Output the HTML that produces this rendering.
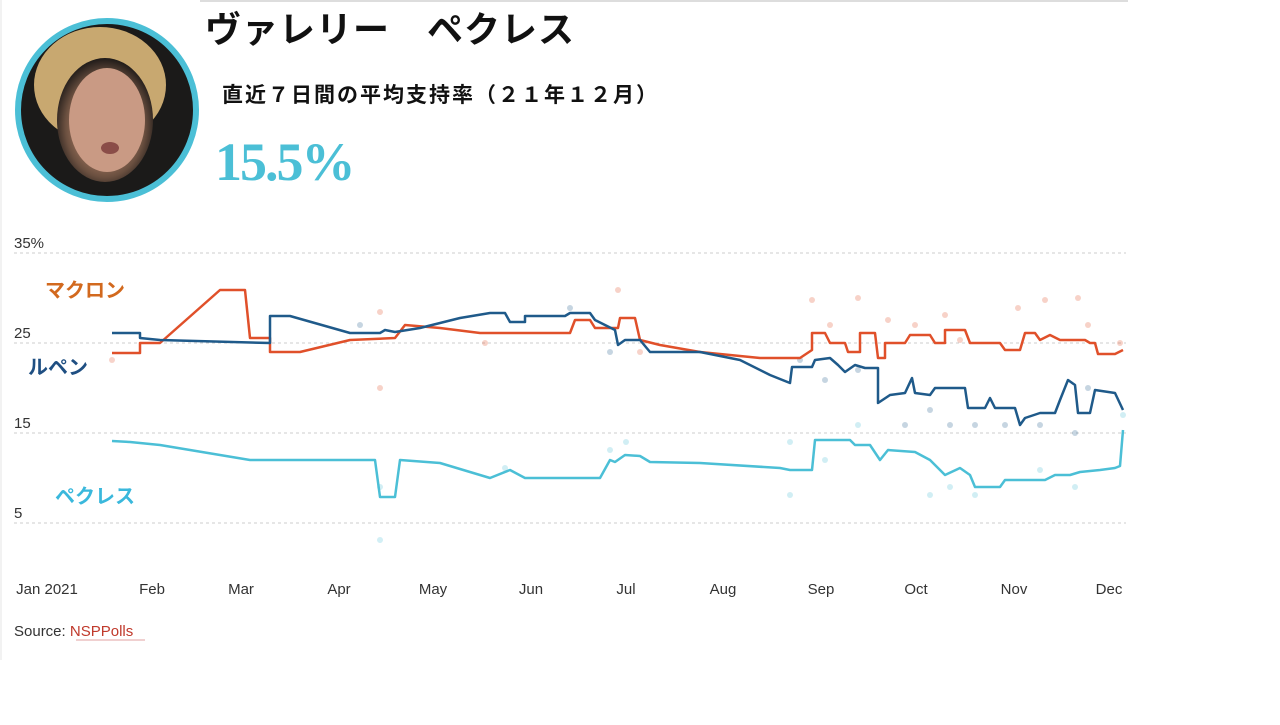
<!DOCTYPE html>
<html><head><meta charset="utf-8"><style>
body{margin:0;width:1280px;height:720px;background:#fff;overflow:hidden;font-family:"Liberation Sans","Noto Sans CJK JP",sans-serif;}
</style></head><body>
<svg width="1280" height="720" viewBox="0 0 1280 720" xmlns="http://www.w3.org/2000/svg">
<defs>
<radialGradient id="face" cx="50%" cy="55%" r="55%">
<stop offset="0" stop-color="#c89a86"/><stop offset="0.45" stop-color="#a87a62"/><stop offset="0.75" stop-color="#6b5040"/><stop offset="1" stop-color="#1e1a18"/>
</radialGradient>
<clipPath id="cc"><circle cx="107" cy="110" r="88"/></clipPath>
</defs>
<line x1="200" y1="1" x2="1128" y2="1" stroke="#bbb" stroke-width="1"/>
<line x1="1" y1="0" x2="1" y2="660" stroke="#e4e4e4" stroke-width="1"/>
<g clip-path="url(#cc)">
<rect x="15" y="18" width="184" height="184" fill="#1b1a19"/>
<ellipse cx="100" cy="85" rx="66" ry="58" fill="#c8a870"/>
<ellipse cx="105" cy="120" rx="48" ry="62" fill="url(#face)"/>
<ellipse cx="107" cy="120" rx="38" ry="52" fill="#c99a84"/>
<ellipse cx="110" cy="148" rx="9" ry="6" fill="#8a4d48"/>
</g>
<circle cx="107" cy="110" r="89" fill="none" stroke="#4bbfd6" stroke-width="6"/>
<text x="205" y="42" font-size="36" font-weight="bold" fill="#111" letter-spacing="1">ヴァレリー　ペクレス</text>
<text x="222" y="102" font-size="21" font-weight="bold" fill="#111" letter-spacing="2">直近７日間の平均支持率（２１年１２月）</text>
<text x="215" y="180" font-size="54" font-family="Liberation Serif,serif" font-weight="bold" fill="#4bbfd6" letter-spacing="-2">15.5%</text>
<g font-size="15" fill="#333">
<text x="14" y="248">35%</text><text x="14" y="338">25</text><text x="14" y="428">15</text><text x="14" y="518">5</text>
</g>
<g stroke="#ccc" stroke-dasharray="3,3" stroke-width="1">
<line x1="14" y1="253" x2="1126" y2="253"/><line x1="14" y1="343" x2="1126" y2="343"/>
<line x1="14" y1="433" x2="1126" y2="433"/><line x1="14" y1="523" x2="1126" y2="523"/>
</g>
<g font-size="15" fill="#333" text-anchor="middle">
<text x="47" y="594">Jan 2021</text><text x="152" y="594">Feb</text><text x="241" y="594">Mar</text><text x="339" y="594">Apr</text><text x="433" y="594">May</text><text x="531" y="594">Jun</text><text x="626" y="594">Jul</text><text x="723" y="594">Aug</text><text x="821" y="594">Sep</text><text x="916" y="594">Oct</text><text x="1014" y="594">Nov</text><text x="1109" y="594">Dec</text>
</g>
<text x="14" y="636" font-size="15" fill="#333">Source: <tspan fill="#c0392b">NSPPolls</tspan></text>
<line x1="76" y1="640" x2="145" y2="640" stroke="#e0a0a0"/>
<g opacity="0.25">
<g fill="#e0502a"><circle cx="380" cy="312" r="3"/><circle cx="380" cy="388" r="3"/><circle cx="485" cy="343" r="3"/><circle cx="618" cy="290" r="3"/><circle cx="640" cy="352" r="3"/><circle cx="812" cy="300" r="3"/><circle cx="830" cy="325" r="3"/><circle cx="858" cy="298" r="3"/><circle cx="888" cy="320" r="3"/><circle cx="915" cy="325" r="3"/><circle cx="945" cy="315" r="3"/><circle cx="960" cy="340" r="3"/><circle cx="1018" cy="308" r="3"/><circle cx="1045" cy="300" r="3"/><circle cx="1078" cy="298" r="3"/><circle cx="1088" cy="325" r="3"/><circle cx="112" cy="360" r="3"/><circle cx="1120" cy="343" r="3"/></g>
<g fill="#1f5a8a"><circle cx="360" cy="325" r="3"/><circle cx="570" cy="308" r="3"/><circle cx="610" cy="352" r="3"/><circle cx="800" cy="360" r="3"/><circle cx="825" cy="380" r="3"/><circle cx="858" cy="370" r="3"/><circle cx="905" cy="425" r="3"/><circle cx="930" cy="410" r="3"/><circle cx="950" cy="425" r="3"/><circle cx="975" cy="425" r="3"/><circle cx="1005" cy="425" r="3"/><circle cx="1040" cy="425" r="3"/><circle cx="1075" cy="433" r="3"/><circle cx="1088" cy="388" r="3"/></g>
<g fill="#4bbfd6"><circle cx="380" cy="540" r="3"/><circle cx="380" cy="487" r="3"/><circle cx="505" cy="468" r="3"/><circle cx="610" cy="450" r="3"/><circle cx="626" cy="442" r="3"/><circle cx="790" cy="495" r="3"/><circle cx="790" cy="442" r="3"/><circle cx="825" cy="460" r="3"/><circle cx="858" cy="425" r="3"/><circle cx="930" cy="495" r="3"/><circle cx="950" cy="487" r="3"/><circle cx="975" cy="495" r="3"/><circle cx="1040" cy="470" r="3"/><circle cx="1075" cy="487" r="3"/><circle cx="1123" cy="415" r="3"/></g>
</g>
<g fill="none" stroke-width="2.5" stroke-linejoin="round">
<polyline stroke="#e0502a" points="112,353 140,353 140,343 160,343 220,290 245,290 250,338 270,338 270,352 300,352 350,340 395,338 405,325 440,328 480,333 570,333 575,320 590,320 595,328 618,328 620,318 635,318 640,340 660,345 700,352 760,358 800,358 812,350 812,333 825,333 830,343 845,343 848,352 860,352 860,333 875,333 878,358 885,358 885,343 905,343 910,335 930,335 935,343 945,343 945,330 965,330 970,343 1000,343 1005,350 1020,350 1025,333 1035,333 1040,340 1050,335 1060,340 1085,340 1090,343 1095,343 1098,354 1115,354 1123,350"/>
<polyline stroke="#1f5a8a" points="112,333 140,333 140,338 160,340 270,343 270,316 290,316 350,333 380,333 385,330 395,332 420,328 460,318 490,313 505,313 510,322 525,322 525,316 565,316 570,313 590,313 595,320 615,330 618,345 625,340 640,340 650,352 700,352 740,360 770,375 790,383 792,367 812,367 815,360 830,358 838,365 845,372 855,365 865,368 878,368 878,403 890,395 905,393 912,378 915,393 930,395 935,388 965,388 968,408 985,408 990,398 995,408 1015,408 1020,425 1025,418 1040,413 1055,413 1060,400 1068,380 1075,385 1078,413 1090,413 1095,390 1115,393 1123,410"/>
<polyline stroke="#4bbfd6" points="112,441 130,442 160,445 250,460 375,460 380,497 395,497 400,460 440,463 490,478 510,470 525,478 600,478 610,460 615,462 625,455 640,456 650,462 700,463 780,468 790,470 812,470 815,440 850,440 855,445 870,445 880,460 888,450 915,452 930,460 945,475 960,468 970,475 975,487 1000,487 1005,480 1045,480 1055,475 1070,475 1080,472 1100,470 1115,468 1120,466 1123,430"/>
</g>
<text x="45" y="297" font-size="20" font-weight="bold" fill="#d2691e">マクロン</text>
<text x="28" y="374" font-size="20" font-weight="bold" fill="#1f4f82">ルペン</text>
<text x="55" y="503" font-size="20" font-weight="bold" fill="#3ab8dc">ペクレス</text>
</svg>
</body></html>
